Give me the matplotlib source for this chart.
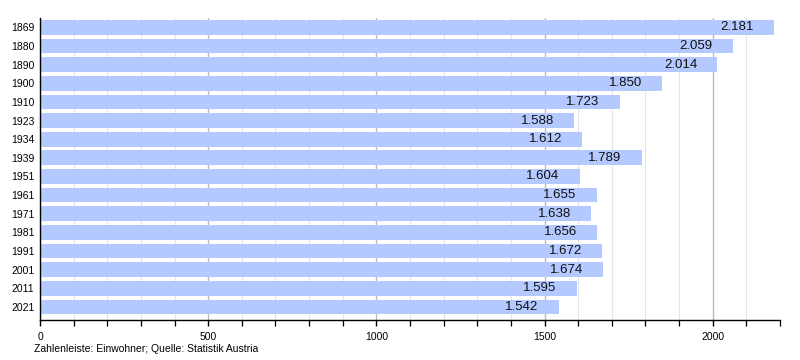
import matplotlib
matplotlib.use("Agg")
import matplotlib.pyplot as plt
from matplotlib.ticker import MultipleLocator

years = ["1869", "1880", "1890", "1900", "1910", "1923", "1934", "1939",
         "1951", "1961", "1971", "1981", "1991", "2001", "2011", "2021"]
values = [2181, 2059, 2014, 1850, 1723, 1588, 1612, 1789,
          1604, 1655, 1638, 1656, 1672, 1674, 1595, 1542]

plt.rcParams['font.family'] = ['Liberation Sans', 'DejaVu Sans']

fig = plt.figure(figsize=(8, 3.6), dpi=100)
ax = fig.add_axes([0.05, 1 - 320 / 360, 0.925, (320 - 18) / 360])

ypos = list(range(len(years)))
ax.barh(ypos, values, height=0.79, color='#b3c9ff', edgecolor='none', zorder=2)
for y, v in zip(ypos, values):
    lab = f"{v:,}".replace(",", ".")
    ax.annotate(lab, xy=(v, y), xytext=(-14.5, 0), textcoords='offset points',
                ha='right', va='center', fontsize=9.5, color='#111111', zorder=3)

ax.set_ylim(len(years) - 0.5 + 0.2, -0.5)
ax.set_xlim(0, 2200)
ax.set_yticks(ypos)
ax.set_yticklabels(years, fontsize=7.5)
ax.xaxis.set_major_locator(MultipleLocator(500))
ax.xaxis.set_minor_locator(MultipleLocator(100))
ax.tick_params(axis='x', which='major', labelsize=7.5, length=4, direction='out', pad=5, width=1)
ax.tick_params(axis='x', which='minor', length=4, direction='out', width=0.9)
ax.tick_params(axis='y', length=0, pad=4)

ax.grid(which='major', axis='x', color='#bbbbbb', linewidth=1, zorder=0)
ax.grid(which='minor', axis='x', color='#e4e4e4', linewidth=0.8, zorder=0)
ax.set_axisbelow(True)

for s in ['top', 'right']:
    ax.spines[s].set_visible(False)
ax.spines['left'].set_color('black')
ax.spines['bottom'].set_color('black')
ax.spines['left'].set_linewidth(1)
ax.spines['bottom'].set_linewidth(1)

fig.text(34 / 800, 1 - 349 / 360, "Zahlenleiste: Einwohner; Quelle: Statistik Austria",
         fontsize=7.5, ha='left', va='center')

fig.savefig("out.png", dpi=100, facecolor='white')
